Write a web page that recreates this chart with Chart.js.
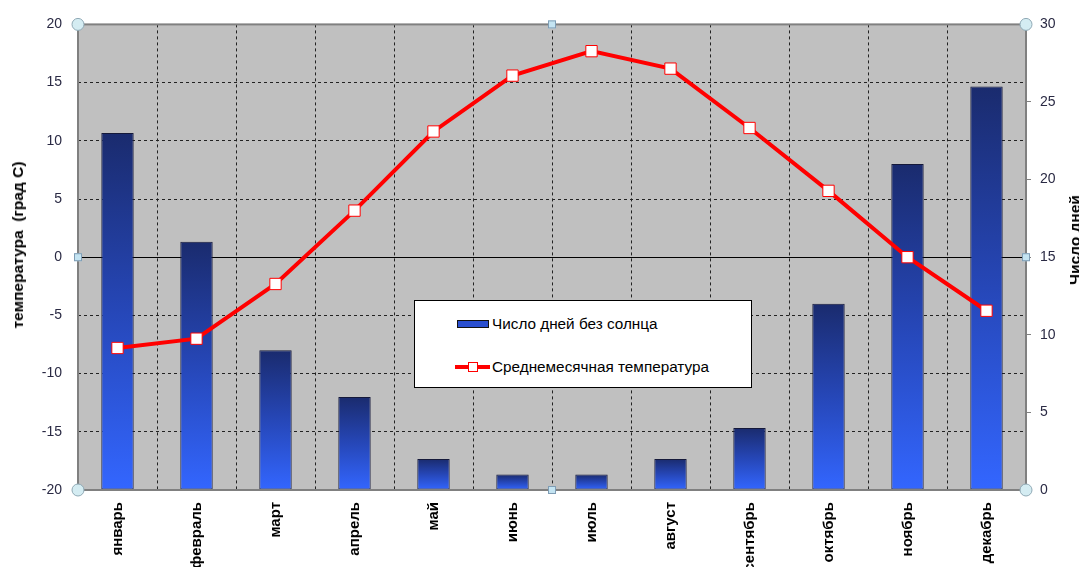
<!DOCTYPE html>
<html>
<head>
<meta charset="utf-8">
<script src="https://cdn.jsdelivr.net/npm/chart.js@4/dist/chart.umd.min.js"></script>
<style>
  html, body { margin: 0; padding: 0; background: #fff; overflow: hidden; }
  #wrap { position: relative; width: 1079px; height: 567px; font-family: Arial, "Liberation Sans", sans-serif; }
  canvas { position: absolute; left: 0; top: 0; }
  .axis-title {
    position: absolute; font-weight: bold; font-size: 15.5px; color: #000;
    white-space: nowrap; transform: translate(-50%, -50%) rotate(-90deg);
  }
  #legend {
    position: absolute; left: 414px; top: 300px; width: 336px; height: 86px;
    background: #fff; border: 1px solid #000; font-size: 15.3px; color: #000;
  }
  .item { position: absolute; left: 40px; height: 16px; line-height: 16px; white-space: nowrap; }
  .item span.txt { position: absolute; left: 37px; top: 0; }
  .sw-bar { position: absolute; left: 2px; top: 4px; width: 30px; height: 6px; background: #2a4fd0; border: 1px solid #111; }
  .sw-line { position: absolute; left: 0; top: 6px; width: 35px; height: 4px; background: #ff0000; }
  .sw-pt { position: absolute; left: 13px; top: 3px; width: 8px; height: 8px; background: #fff; border: 1px solid #ff0000; }
</style>
</head>
<body>
<div id="wrap">
  <canvas id="chart" width="1079" height="567"></canvas>
  <div class="axis-title" style="left:18px; top:245px;">температура&nbsp; (град С)</div>
  <div class="axis-title" style="left:1075px; top:240px;">Число дней</div>
  <div id="legend">
    <div class="item" style="top:15px;"><div class="sw-bar"></div><span class="txt">Число дней без солнца</span></div>
    <div class="item" style="top:58px;"><div class="sw-line"></div><div class="sw-pt"></div><span class="txt">Среднемесячная температура</span></div>
  </div>
</div>
<script>
const months = ['январь', 'февраль', 'март', 'апрель', 'май', 'июнь', 'июль', 'август', 'сентябрь', 'октябрь', 'ноябрь', 'декабрь'];
const sunlessDays = [23, 16, 9, 6, 2, 1, 1, 2, 4, 12, 21, 26];
const avgTemp = [-7.8, -7.0, -2.3, 4.0, 10.8, 15.6, 17.7, 16.2, 11.1, 5.7, 0.0, -4.6];

const tempMin = -20, tempMax = 20, tempStep = 5;
const daysMin = 0, daysMax = 30, daysStep = 5;

// grey plot background + solid frame, zero line, selection handles
const plotDecor = {
  id: 'plotDecor',
  beforeDraw(chart) {
    const { ctx, chartArea: a } = chart;
    ctx.save();
    ctx.fillStyle = '#c0c0c0';
    ctx.fillRect(a.left, a.top, a.right - a.left, a.bottom - a.top);
    ctx.restore();
  },
  beforeDatasetsDraw(chart) {
    const { ctx, chartArea: a } = chart;
    const y0 = Math.round(chart.scales.yTemp.getPixelForValue(0)) + 0.5;
    ctx.save();
    ctx.strokeStyle = '#000';
    ctx.lineWidth = 1;
    ctx.beginPath();
    ctx.moveTo(a.left, y0);
    ctx.lineTo(a.right, y0);
    ctx.stroke();
    ctx.restore();
  },
  afterDraw(chart) {
    const { ctx, chartArea: a } = chart;
    ctx.save();
    ctx.strokeStyle = '#808080';
    ctx.lineWidth = 2;
    ctx.strokeRect(a.left, a.top, a.right - a.left, a.bottom - a.top);
    const midX = (a.left + a.right) / 2, midY = (a.top + a.bottom) / 2;
    ctx.lineWidth = 1;
    [[a.left, a.top], [a.right, a.top], [a.left, a.bottom], [a.right, a.bottom]].forEach(([x, y]) => {
      ctx.beginPath();
      ctx.arc(x, y, 6, 0, Math.PI * 2);
      ctx.fillStyle = '#d4ecf2';
      ctx.fill();
      ctx.strokeStyle = '#8fa9b5';
      ctx.stroke();
    });
    [[midX, a.top], [midX, a.bottom], [a.left, midY], [a.right, midY]].forEach(([x, y]) => {
      ctx.fillStyle = '#c4e4f2';
      ctx.fillRect(x - 4, y - 4, 8, 8);
      ctx.strokeStyle = '#7f9db5';
      ctx.strokeRect(x - 4 + 0.5, y - 4 + 0.5, 7, 7);
    });
    ctx.restore();
  }
};

function barGradient(c) {
  const chart = c.chart;
  const s = chart.scales.yDays;
  if (c.type !== 'data' || !s || !chart.chartArea) return '#2a4fd0';
  const top = s.getPixelForValue(c.raw);
  const bot = s.getPixelForValue(0);
  if (!isFinite(top) || !isFinite(bot) || top === bot) return '#2a4fd0';
  const g = chart.ctx.createLinearGradient(0, top, 0, bot);
  g.addColorStop(0, '#1a2b6e');
  g.addColorStop(0.5, '#2647b8');
  g.addColorStop(1, '#3366ff');
  return g;
}

const tickFont = { family: 'Arial, "Liberation Sans", sans-serif', size: 14 };

new Chart(document.getElementById('chart'), {
  data: {
    labels: months,
    datasets: [
      {
        type: 'line',
        label: 'Среднемесячная температура',
        data: avgTemp,
        yAxisID: 'yTemp',
        order: 1,
        borderColor: '#ff0000',
        borderWidth: 4,
        tension: 0,
        pointStyle: 'rect',
        pointRadius: 8,
        pointBackgroundColor: '#ffffff',
        pointBorderColor: '#ff0000',
        pointBorderWidth: 1
      },
      {
        type: 'bar',
        label: 'Число дней без солнца',
        data: sunlessDays,
        yAxisID: 'yDays',
        order: 2,
        backgroundColor: barGradient,
        borderColor: '#15193a',
        borderWidth: 1,
        borderSkipped: false,
        categoryPercentage: 1,
        barPercentage: 0.41
      }
    ]
  },
  options: {
    responsive: false,
    animation: false,
    layout: { padding: { top: 20, left: 0, right: 0, bottom: 0 } },
    plugins: {
      legend: { display: false },
      tooltip: { enabled: false }
    },
    scales: {
      x: {
        offset: true,
        grid: { offset: true, color: '#222', lineWidth: 1, drawTicks: false },
        border: { display: false, dash: [3, 3] },
        ticks: {
          autoSkip: false, maxRotation: 90, minRotation: 90, padding: 12,
          color: '#000', font: { family: 'Arial, "Liberation Sans", sans-serif', size: 15, weight: 'bold' }
        },
        afterFit(s) { s.height = 77; }
      },
      yTemp: {
        position: 'left',
        min: tempMin, max: tempMax,
        grid: { color: '#222', lineWidth: 1, drawTicks: false },
        border: { display: false, dash: [3, 3] },
        ticks: { stepSize: tempStep, padding: 16, color: '#2a2a44', font: tickFont },
        afterFit(s) { s.width = 78; }
      },
      yDays: {
        position: 'right',
        min: daysMin, max: daysMax,
        grid: { drawOnChartArea: false, drawTicks: true, tickLength: 5, tickColor: '#808080' },
        border: { display: false },
        ticks: { stepSize: daysStep, padding: 9, color: '#2a2a44', font: tickFont },
        afterFit(s) { s.width = 53; }
      }
    }
  },
  plugins: [plotDecor]
});
</script>
</body>
</html>
